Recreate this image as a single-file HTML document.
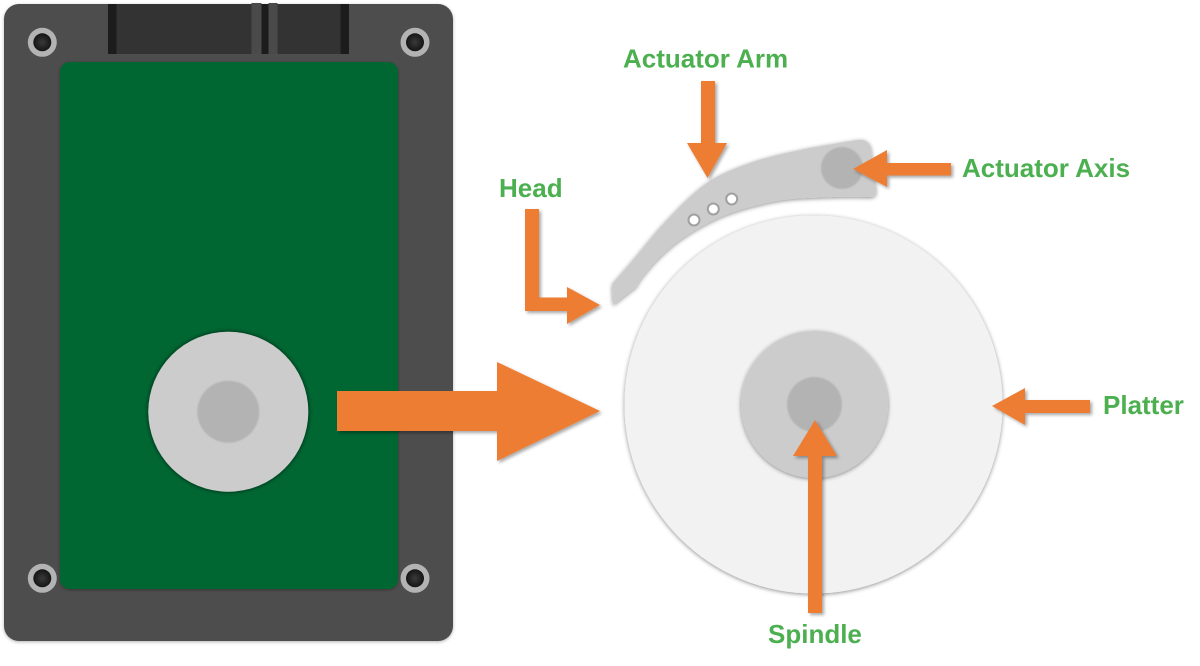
<!DOCTYPE html>
<html>
<head>
<meta charset="utf-8">
<style>
  html, body { margin: 0; padding: 0; background: #ffffff; }
  svg { display: block; }
  .lbl { font-family: "Liberation Sans", Arial, sans-serif; font-weight: bold; font-size: 26px; fill: #4caf50; }
</style>
</head>
<body>
<svg width="1200" height="666" viewBox="0 0 1200 666" xmlns="http://www.w3.org/2000/svg">
  <defs>
    <filter id="sh" x="-20%" y="-20%" width="140%" height="140%">
      <feDropShadow dx="2" dy="2" stdDeviation="1.5" flood-color="#000" flood-opacity="0.35"/>
    </filter>
    <filter id="rim" x="-10%" y="-10%" width="120%" height="120%">
      <feDropShadow dx="0" dy="1" stdDeviation="2" flood-color="#000" flood-opacity="0.45"/>
    </filter>
    <filter id="rimdark" x="-10%" y="-10%" width="120%" height="120%">
      <feDropShadow dx="0" dy="0" stdDeviation="2" flood-color="#000" flood-opacity="0.7"/>
    </filter>
    <filter id="soft" x="-20%" y="-20%" width="140%" height="140%">
      <feGaussianBlur stdDeviation="0.8"/>
    </filter>
    <filter id="body" x="-5%" y="-5%" width="110%" height="110%">
      <feDropShadow dx="0" dy="1" stdDeviation="1.5" flood-color="#000" flood-opacity="0.3"/>
    </filter>
    <radialGradient id="screw" cx="50%" cy="50%" r="50%">
      <stop offset="0%" stop-color="#3a3a3a"/>
      <stop offset="100%" stop-color="#151515"/>
    </radialGradient>
  </defs>

  <!-- Drive body -->
  <rect x="4" y="4" width="449" height="637" rx="15" fill="#4d4d4d" filter="url(#body)"/>
  <!-- Connector -->
  <rect x="108" y="4" width="241" height="50" rx="2" fill="#333333"/>
  <rect x="108" y="4" width="8.5" height="50" fill="#1c1c1c"/>
  <rect x="340.5" y="4" width="8.5" height="50" fill="#1c1c1c"/>
  <rect x="251.5" y="3" width="10" height="51" fill="#4a4a4a"/>
  <rect x="261.5" y="4" width="7" height="50" fill="#1c1c1c"/>
  <rect x="268.5" y="3" width="9" height="51" fill="#4a4a4a"/>

  <!-- Screws -->
  <g>
    <circle cx="42.3" cy="42.3" r="14.5" fill="#b3b3b3"/>
    <circle cx="42.3" cy="42.3" r="9" fill="url(#screw)"/>
    <circle cx="415" cy="42.3" r="14.5" fill="#b3b3b3"/>
    <circle cx="415" cy="42.3" r="9" fill="url(#screw)"/>
    <circle cx="42.3" cy="578.3" r="14.5" fill="#b3b3b3"/>
    <circle cx="42.3" cy="578.3" r="9" fill="url(#screw)"/>
    <circle cx="415" cy="578.3" r="14.5" fill="#b3b3b3"/>
    <circle cx="415" cy="578.3" r="9" fill="url(#screw)"/>
  </g>

  <!-- PCB -->
  <rect x="60" y="62" width="338" height="527" rx="10" fill="#006633" filter="url(#body)"/>

  <!-- Disc on PCB -->
  <circle cx="228.3" cy="411.7" r="80" fill="#cccccc" filter="url(#rimdark)"/>
  <circle cx="228.3" cy="411.7" r="31" fill="#b3b3b3" filter="url(#soft)"/>

  <!-- Big arrow -->
  <polygon points="337,391 497,391 497,362 600,411 497,461 497,431 337,431" fill="#ed7d31" filter="url(#sh)"/>

  <!-- Platter -->
  <circle cx="813.5" cy="404.5" r="189" fill="#f2f2f2" filter="url(#rim)"/>
  <!-- Spindle -->
  <circle cx="814.5" cy="404.5" r="73.5" fill="#cccccc" filter="url(#rim)"/>
  <circle cx="814.5" cy="404.5" r="27.5" fill="#b3b3b3" filter="url(#soft)"/>

  <!-- Actuator arm -->
  <path d="M613,283
           C616.3,279.2 624,270.5 633,260
           C642,249.5 654.7,232.8 667,220
           C679.3,207.2 693.2,192.5 707,183
           C720.8,173.5 734.5,168.5 750,163
           C765.5,157.5 782.2,153.8 800,150
           C817.8,146.2 847.5,141.7 857,140
           Q868,138.5 871,148
           L876,190
           Q877,197 870,197
           C863.8,197 847.5,196.5 833,197
           C818.5,197.5 798.5,197.8 783,200
           C767.5,202.2 752.2,206.3 740,210
           C727.8,213.7 720,217 710,222
           C700,227 688.8,233.7 680,240
           C671.2,246.3 663.7,253.3 657,260
           C650.3,266.7 643.5,275.5 640,280
           L636,287
           L613,305
           L612,287 Z" fill="#cccccc" filter="url(#rim)"/>
  <circle cx="842" cy="168" r="21" fill="#b3b3b3" filter="url(#soft)"/>
  <circle cx="694" cy="220" r="5.5" fill="#ffffff" stroke="#a0a0a0" stroke-width="2"/>
  <circle cx="713.3" cy="209" r="5.5" fill="#ffffff" stroke="#a0a0a0" stroke-width="2"/>
  <circle cx="731.7" cy="199" r="5.5" fill="#ffffff" stroke="#a0a0a0" stroke-width="2"/>

  <!-- Arrows -->
  <!-- Actuator Arm arrow -->
  <polygon points="701,81 715,81 715,143 727,143 707.5,178 687,143 701,143" fill="#ed7d31" filter="url(#sh)"/>
  <!-- Actuator Axis arrow -->
  <polygon points="853,169 887,150 887,163 951,163 951,175.5 887,175.5 887,187" fill="#ed7d31" filter="url(#sh)"/>
  <!-- Head arrow -->
  <polygon points="525,209 539,209 539,297.5 567,297.5 567,287 600,305 567,324 567,311 525,311" fill="#ed7d31" filter="url(#sh)"/>
  <!-- Platter arrow -->
  <polygon points="992,406 1025,388 1025,400 1090,400 1090,413 1025,413 1025,425" fill="#ed7d31" filter="url(#sh)"/>
  <!-- Spindle arrow -->
  <polygon points="815,420 837,456 822,456 822,613 808,613 808,456 793,456" fill="#ed7d31" filter="url(#sh)"/>

  <!-- Labels -->
  <text class="lbl" x="623" y="67.5">Actuator Arm</text>
  <text class="lbl" x="962" y="177">Actuator Axis</text>
  <text class="lbl" x="499" y="197">Head</text>
  <text class="lbl" x="1103" y="414">Platter</text>
  <text class="lbl" x="768" y="643">Spindle</text>
</svg>
</body>
</html>
